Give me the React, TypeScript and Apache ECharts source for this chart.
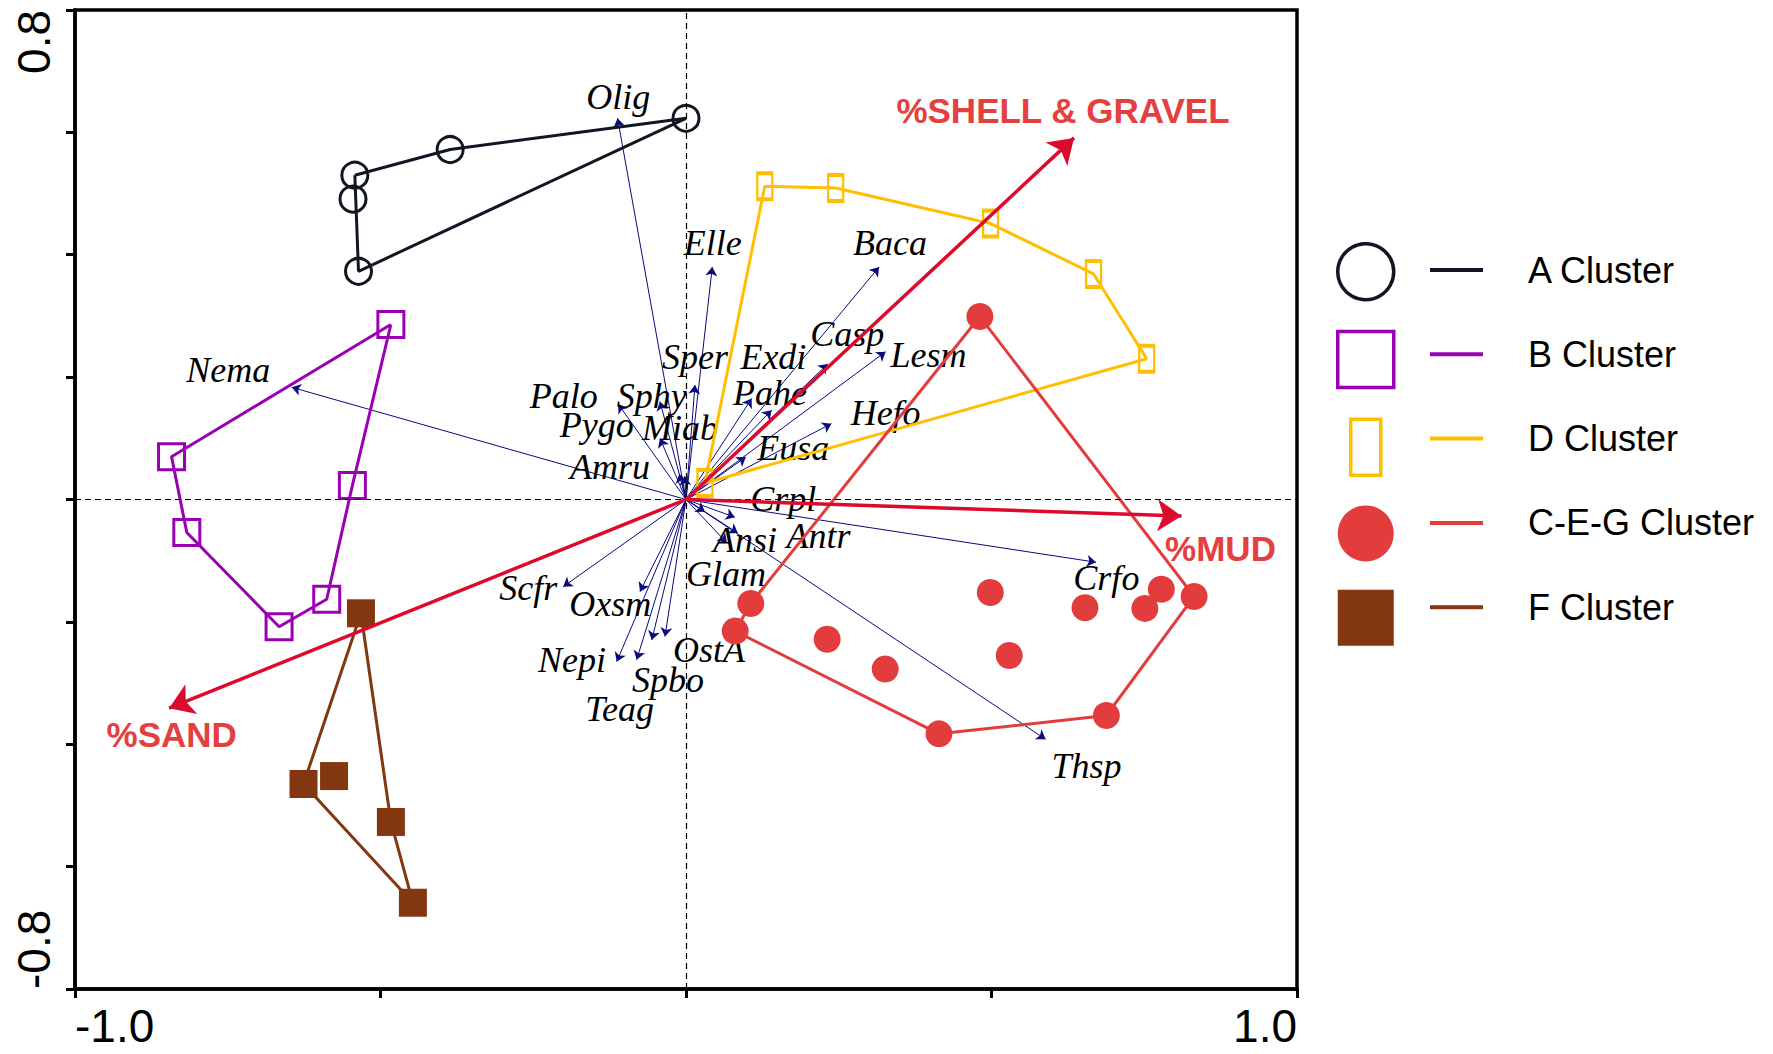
import React, { useEffect, useRef } from "react";
import * as echarts from "echarts";

// ---------- data ----------
const xLabelValues = [-1.0, 1.0];
const yLabelValues = [-0.8, 0.8];

const clusterNames = ["A Cluster", "B Cluster", "D Cluster", "C-E-G Cluster", "F Cluster"];

const clusterA = [[-0.542, 0.53], [-0.386, 0.572], [0.0, 0.623], [-0.545, 0.491], [-0.536, 0.373]];
const hullA = [0, 1, 2, 4, 0];

const clusterB = [[-0.483, 0.286], [-0.842, 0.07], [-0.817, -0.054], [-0.666, -0.208], [-0.588, -0.163], [-0.546, 0.023]];
const hullB = [0, 1, 2, 3, 4, 5, 0];

const clusterD = [[0.031, 0.027], [0.129, 0.512], [0.245, 0.509], [0.4985, 0.451], [0.667, 0.3686], [0.754, 0.23]];
const hullD = [0, 1, 2, 3, 4, 5, 0];

const clusterCEG = [
  [0.481, 0.299], [0.106, -0.17], [0.0805, -0.215], [0.231, -0.2285], [0.326, -0.277], [0.414, -0.383],
  [0.498, -0.152], [0.529, -0.255], [0.653, -0.177], [0.688, -0.353], [0.751, -0.178], [0.778, -0.1466], [0.8316, -0.1585],
];
const hullCEG = [0, 12, 9, 5, 2, 1, 0];

const clusterF = [[-0.532, -0.186], [-0.626, -0.465], [-0.576, -0.452], [-0.483, -0.527], [-0.447, -0.659]];
const hullF = [0, 1, 4, 3, 0];

const speciesNames = [
  "Olig", "Elle", "Baca", "Casp", "Lesm", "Sper", "Exdi", "Pahe", "Hefo", "Eusa",
  "Palo", "Sphy", "Pygo", "Miab", "Amru", "Nema", "Crpl", "Antr", "Ansi", "Glam",
  "Crfo", "Thsp", "Scfr", "Oxsm", "Nepi", "Teag", "Spbo", "OstA",
];
const speciesTips = [
  [-0.112, 0.623], [0.043, 0.38], [0.316, 0.38], [0.232, 0.2215], [0.3267, 0.2415], [0.0147, 0.187], [0.14, 0.146], [0.1075, 0.165], [0.238, 0.124], [0.098, 0.0695],
  [-0.111, 0.156], [-0.0426, 0.16], [-0.0426, 0.1], [-0.002, 0.038], [-0.011, 0.042], [-0.6453, 0.1833], [0.08, -0.029], [0.085, -0.055], [0.067, -0.071], [0.031, -0.02],
  [0.671, -0.1025], [0.5886, -0.392], [-0.201, -0.1425], [-0.0753, -0.1506], [-0.1134, -0.265], [-0.0807, -0.262], [-0.056, -0.2296], [-0.0344, -0.224],
];
const speciesLabelAt = [
  [-0.111, 0.658], [0.0437, 0.419], [0.334, 0.4196], [0.264, 0.27], [0.397, 0.236], [0.0147, 0.2333], [0.143, 0.2333], [0.1375, 0.1735], [0.3267, 0.141], [0.1756, 0.0837],
  [-0.2, 0.169], [-0.056, 0.169], [-0.146, 0.1217], [-0.0098, 0.1163], [-0.1244, 0.0536], [-0.749, 0.2116], [0.159, 0.001], [0.217, -0.0595], [0.0966, -0.066], [0.0655, -0.121],
  [0.688, -0.128], [0.6555, -0.4348], [-0.258, -0.145], [-0.124, -0.1716], [-0.1866, -0.2623], [-0.1085, -0.3423], [-0.0295, -0.295], [0.0376, -0.246],
];

const envNames = ["%SHELL & GRAVEL", "%MUD", "%SAND"];
const envTips = [[0.635, 0.591], [0.811, -0.027], [-0.846, -0.341]];
const envLabelAt = [[0.617, 0.6364], [0.8748, -0.0794], [-0.8417, -0.3848]];

// ---------- styles ----------
const clusterColors = ["#111722", "#9900b2", "#ffbf00", "#e23c3c", "#823710"];
const clusterPoints = [clusterA, clusterB, clusterD, clusterCEG, clusterF];
const clusterHulls = [hullA, hullB, hullD, hullCEG, hullF];
const clusterSymbols = ["circle", "rect", "rect", "circle", "rect"];
const clusterSizes: any[] = [26, 26, [15, 26], 27, 28];
const clusterOpen = [true, true, true, false, false];

const SANS = "Liberation Sans";
const SERIF = "Liberation Serif";

function isOneOf(v: number, list: number[]) {
  return list.some((t) => Math.abs(t - v) < 1e-9);
}

export default function App() {
  const ref = useRef<HTMLDivElement>(null);

  useEffect(() => {
    if (!ref.current) return;
    const chart = echarts.init(ref.current, undefined, { renderer: "svg" });

    const series: any[] = [];

    // species arrows
    series.push({
      type: "lines",
      coordinateSystem: "cartesian2d",
      z: 2,
      silent: true,
      symbol: ["none", "arrow"],
      symbolSize: 9,
      lineStyle: { color: "#0a0a80", width: 1, opacity: 1, curveness: 0 },
      data: speciesTips.map((t) => ({ coords: [[0, 0], t] })),
      markLine: {
        silent: true,
        symbol: ["none", "none"],
        label: { show: false },
        lineStyle: { color: "#000", type: [6, 4], width: 1.2, opacity: 1 },
        data: [{ xAxis: 0 }, { yAxis: 0 }],
      },
    });

    // species labels
    series.push({
      type: "scatter",
      z: 2,
      silent: true,
      symbolSize: 1,
      itemStyle: { color: "rgba(0,0,0,0)", opacity: 1 },
      label: {
        show: true,
        position: "inside",
        formatter: "{b}",
        fontFamily: SERIF,
        fontStyle: "italic",
        fontSize: 36,
        lineHeight: 28,
        color: "#000",
        opacity: 1,
      },
      data: speciesNames.map((n, i) => ({ name: n, value: speciesLabelAt[i] })),
    });

    // clusters
    clusterNames.forEach((name, i) => {
      const pts = clusterPoints[i];
      series.push({
        name: name + " hull",
        type: "line",
        z: 3,
        silent: true,
        symbol: "none",
        lineStyle: { color: clusterColors[i], width: 3, opacity: 1 },
        data: clusterHulls[i].map((k) => pts[k]),
      });
      series.push({
        name,
        type: "scatter",
        z: 4,
        silent: true,
        symbol: clusterSymbols[i],
        symbolSize: clusterSizes[i],
        itemStyle: clusterOpen[i]
          ? { color: "rgba(0,0,0,0)", borderColor: clusterColors[i], borderWidth: 3, opacity: 1 }
          : { color: clusterColors[i], borderWidth: 0, opacity: 1 },
        data: pts,
      });
    });

    // environmental arrows
    series.push({
      type: "lines",
      coordinateSystem: "cartesian2d",
      z: 5,
      silent: true,
      symbol: ["none", "arrow"],
      symbolSize: 24,
      lineStyle: { color: "#dc0a2d", width: 3.5, opacity: 1, curveness: 0 },
      data: envTips.map((t) => ({ coords: [[0, 0], t] })),
    });
    series.push({
      type: "scatter",
      z: 6,
      silent: true,
      symbolSize: 1,
      itemStyle: { color: "rgba(0,0,0,0)", opacity: 1 },
      label: {
        show: true,
        position: "inside",
        formatter: "{b}",
        fontFamily: SANS,
        fontWeight: "bold",
        fontSize: 35,
        color: "#e3403f",
        opacity: 1,
      },
      data: envNames.map((n, i) => ({ name: n, value: envLabelAt[i] })),
    });

    const legendIcons = ["circle", "rect", "path://M0,0H29V54H0Z", "circle", "rect"];

    const option: any = {
      animation: false,
      backgroundColor: "#fff",
      grid: {
        left: 75,
        right: 476,
        top: 10,
        bottom: 65,
        show: true,
        borderColor: "#000",
        borderWidth: 3.5,
        backgroundColor: "rgba(0,0,0,0)",
      },
      xAxis: {
        type: "value",
        min: -1,
        max: 1,
        interval: 0.5,
        axisLine: { show: true, onZero: false, lineStyle: { color: "#000", width: 3.5 } },
        axisTick: { show: true, inside: false, length: 9, lineStyle: { color: "#000", width: 3 } },
        splitLine: { show: false },
        axisLabel: {
          formatter: (v: number) => (isOneOf(v, xLabelValues) ? v.toFixed(1) : ""),
          fontSize: 46,
          fontFamily: SANS,
          color: "#000",
          margin: 14,
          showMinLabel: true,
          showMaxLabel: true,
          alignMinLabel: "left",
          alignMaxLabel: "right",
        },
      },
      yAxis: {
        type: "value",
        min: -0.8,
        max: 0.8,
        interval: 0.2,
        axisLine: { show: true, onZero: false, lineStyle: { color: "#000", width: 3.5 } },
        axisTick: { show: true, inside: false, length: 9, lineStyle: { color: "#000", width: 3 } },
        splitLine: { show: false },
        axisLabel: {
          formatter: (v: number) => (isOneOf(v, yLabelValues) ? v.toFixed(1) : ""),
          fontSize: 46,
          fontFamily: SANS,
          color: "#000",
          rotate: 90,
          margin: 18,
          showMinLabel: true,
          showMaxLabel: true,
          alignMinLabel: "left",
          alignMaxLabel: "right",
        },
      },
      legend: [
        {
          orient: "vertical",
          left: 1336,
          top: 242,
          padding: 0,
          itemWidth: 56,
          itemHeight: 56,
          itemGap: 28.3,
          selectedMode: false,
          formatter: () => "",
          textStyle: { fontSize: 1 },
          data: clusterNames.map((n, i) => ({
            name: n,
            icon: legendIcons[i],
            itemStyle: clusterOpen[i]
              ? { color: "rgba(0,0,0,0)", borderColor: clusterColors[i], borderWidth: 3.5, opacity: 1 }
              : { color: clusterColors[i], borderWidth: 0, opacity: 1 },
          })),
        },
        {
          orient: "vertical",
          left: 1430,
          top: 242,
          padding: 0,
          itemWidth: 53,
          itemHeight: 4,
          itemGap: 28.3,
          selectedMode: false,
          icon: "rect",
          textStyle: {
            fontFamily: SANS,
            fontSize: 36,
            color: "#000",
            lineHeight: 56,
            padding: [0, 0, 0, 40],
          },
          data: clusterNames.map((n, i) => ({
            name: n,
            icon: "rect",
            itemStyle: { color: clusterColors[i], borderWidth: 0, opacity: 1 },
          })),
        },
      ],
      series,
    };

    chart.setOption(option);
    return () => {
      chart.dispose();
    };
  }, []);

  return (
    <div
      ref={ref}
      style={{ position: "fixed", left: 0, top: 0, width: 1773, height: 1054, background: "#fff" }}
    />
  );
}
